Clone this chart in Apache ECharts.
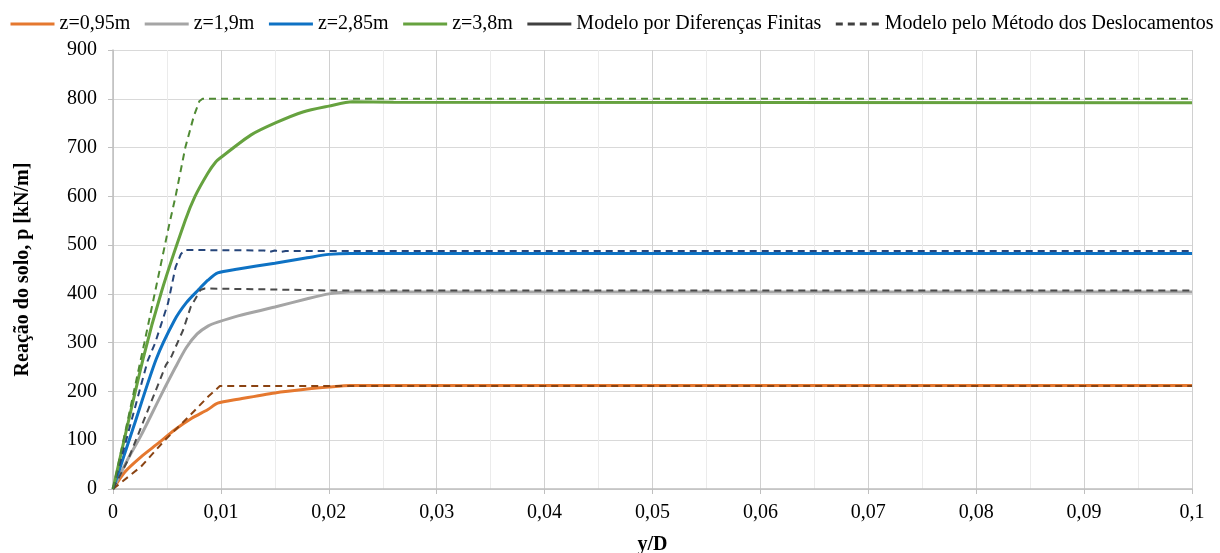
<!DOCTYPE html>
<html>
<head>
<meta charset="utf-8">
<title>Reação do solo x y/D</title>
<script src="https://cdn.jsdelivr.net/npm/echarts@6/dist/echarts.min.js"></script>
<style>
  html, body { margin: 0; padding: 0; background: #ffffff; }
  #chart { width: 1220px; height: 553px; }
</style>
</head>
<body>
<div id="chart"></div>
<script>
// Reação do solo p [kN/m] em função de y/D, para quatro profundidades z.
// Cada série é uma lista de pares [y/D, p].

// Modelo por Diferenças Finitas (linhas contínuas)
const fd_z095 = [[0,0],[0.0011,35],[0.0026,66],[0.0042,94],[0.0057,121],[0.0073,145],[0.0088,163],[0.0097,176],[0.0116,184],[0.015,197],[0.018,205],[0.020,209],[0.022,212],[0.025,212],[0.1,212]];
const fd_z19  = [[0,0],[0.0013,58],[0.0026,110],[0.0044,190],[0.0058,250],[0.0068,290],[0.0078,318],[0.0088,334],[0.0097,342],[0.0116,355],[0.015,373],[0.018,390],[0.020,400],[0.022,404],[0.1,404]];
const fd_z285 = [[0,0],[0.0019,127],[0.0040,266],[0.0057,346],[0.0068,382],[0.0079,408],[0.0088,428],[0.0097,443],[0.0116,451],[0.015,463],[0.018,474],[0.020,481],[0.022,483],[0.1,483]];
const fd_z38  = [[0,0],[0.0028,268],[0.0045,405],[0.0067,551],[0.0076,600],[0.0088,648],[0.0095,670],[0.0099,678],[0.0128,726],[0.0151,751],[0.0176,773],[0.020,785],[0.0222,794],[0.026,793],[0.1,792]];

// Modelo pelo Método dos Deslocamentos (linhas tracejadas)
const md_z095 = [[0,0],[0.0026,46],[0.0048,100],[0.0070,148],[0.0088,189],[0.0099,211],[0.1,211]];
const md_z19  = [[0,0],[0.0014,60],[0.0049,254],[0.0054,271],[0.0065,326],[0.0072,373],[0.0081,408],[0.0085,411],[0.015,409],[0.020,407],[0.1,407]];
const md_z285 = [[0,0],[0.0032,262],[0.0039,299],[0.0051,381],[0.0058,455],[0.0063,482],[0.0067,490],[0.014,489],[0.0145,486],[0.015,489],[0.0155,486],[0.016,488],[0.1,488]];
const md_z38  = [[0,0],[0.0029,299],[0.0052,541],[0.0058,600],[0.0067,700],[0.0075,765],[0.0080,795],[0.0083,800],[0.1,800]];

const depthNames = ['z=0,95m', 'z=1,9m', 'z=2,85m', 'z=3,8m'];
const legendFD = 'Modelo por Diferenças Finitas';
const legendMD = 'Modelo pelo Método dos Deslocamentos';

const xTicks = { min: 0, max: 0.1, interval: 0.01 };
const yTicks = { min: 0, max: 900, interval: 100 };

const solidColors  = ['#E5782F', '#A5A5A5', '#0E72C4', '#66A23F'];
const dashedColors = ['#8A4312', '#4A4A4A', '#26457A', '#4F8A33'];

const fdSeries = [fd_z095, fd_z19, fd_z285, fd_z38];
const mdSeries = [md_z095, md_z19, md_z285, md_z38];

const serif = 'Liberation Serif, Times New Roman, serif';

const series = [];
fdSeries.forEach((d, i) => {
  series.push({
    name: depthNames[i], type: 'line', data: d, symbol: 'none', smooth: 0.25,
    lineStyle: { color: solidColors[i], width: 3 }, itemStyle: { color: solidColors[i] }, z: 3
  });
});
mdSeries.forEach((d, i) => {
  series.push({
    name: depthNames[i] + ' (MD)', type: 'line', data: d, symbol: 'none',
    lineStyle: { color: dashedColors[i], width: 2, type: [7, 5] }, itemStyle: { color: dashedColors[i] }, z: 4
  });
});
// entradas de legenda (sem dados)
series.push({ name: legendFD, type: 'line', data: [], symbol: 'none',
  lineStyle: { color: '#404040', width: 3 }, itemStyle: { color: '#404040' } });
series.push({ name: legendMD, type: 'line', data: [], symbol: 'none',
  lineStyle: { color: '#404040', width: 2, type: [7, 5] }, itemStyle: { color: '#404040' } });

const chart = echarts.init(document.getElementById('chart'), null, { renderer: 'canvas' });
chart.setOption({
  animation: false,
  backgroundColor: '#ffffff',
  textStyle: { fontFamily: serif, color: '#000' },
  legend: {
    data: depthNames.concat([legendFD, legendMD]),
    left: 4, top: 9,
    itemWidth: 44, itemHeight: 14, itemGap: 13,
    itemStyle: { opacity: 0 },
    lineStyle: { width: 3 },
    textStyle: { fontFamily: serif, fontSize: 20, color: '#000' }
  },
  grid: { left: 113, right: 28, top: 50, bottom: 64, containLabel: false, outerBoundsMode: 'none' },
  xAxis: {
    type: 'value', min: xTicks.min, max: xTicks.max, interval: xTicks.interval,
    name: 'y/D', nameLocation: 'middle', nameGap: 46,
    nameTextStyle: { fontFamily: serif, fontSize: 20, fontWeight: 'bold', color: '#000' },
    axisLine: { show: true, lineStyle: { color: '#BFBFBF', width: 1.5 } },
    axisTick: { show: true, length: 5, lineStyle: { color: '#BFBFBF' } },
    axisLabel: { fontFamily: serif, fontSize: 20, color: '#000', margin: 14,
      formatter: v => v === 0 ? '0' : String(+v.toFixed(2)).replace('.', ',') },
    splitLine: { show: true, lineStyle: { color: '#D0D0D0', width: 1 } },
    minorTick: { show: false, splitNumber: 2 },
    minorSplitLine: { show: true, lineStyle: { color: '#EBEBEB', width: 1 } }
  },
  yAxis: {
    type: 'value', min: yTicks.min, max: yTicks.max, interval: yTicks.interval,
    name: 'Reação do solo, p [kN/m]', nameLocation: 'middle', nameGap: 80, nameRotate: 90,
    nameTextStyle: { fontFamily: serif, fontSize: 20, fontWeight: 'bold', color: '#000' },
    axisLine: { show: true, lineStyle: { color: '#BFBFBF', width: 1.5 } },
    axisTick: { show: true, length: 5, lineStyle: { color: '#BFBFBF' } },
    axisLabel: { fontFamily: serif, fontSize: 20, color: '#000', margin: 16 },
    splitLine: { show: true, lineStyle: { color: '#D9D9D9', width: 1 } }
  },
  series: series
});
</script>
</body>
</html>
